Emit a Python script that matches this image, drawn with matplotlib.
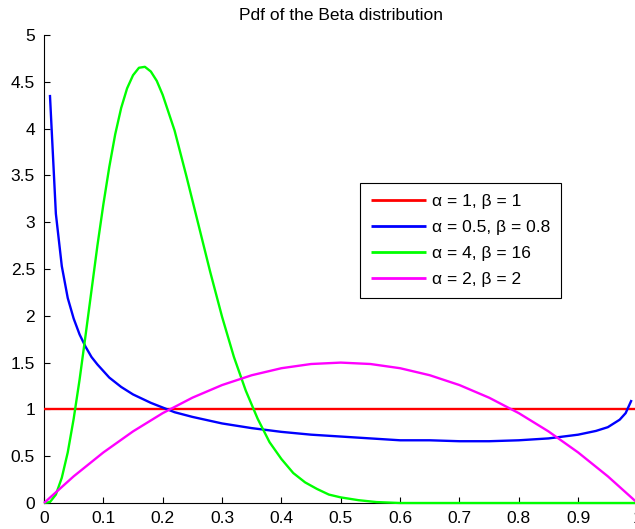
import matplotlib
matplotlib.use("Agg")
import matplotlib.pyplot as plt

plt.rcParams['font.family'] = ['Liberation Sans', 'DejaVu Sans']

title = "Pdf of the Beta distribution"

# alpha = 1, beta = 1
x_red = [0.0, 1.0]
y_red = [1.0, 1.0]

# alpha = 0.5, beta = 0.8
x_blue = [0.01, 0.02, 0.03, 0.04, 0.05, 0.06, 0.07, 0.08, 0.09, 0.10, 0.11,
          0.12, 0.13, 0.14, 0.15, 0.17, 0.18, 0.20, 0.22, 0.25, 0.30, 0.35,
          0.40, 0.45, 0.50, 0.55, 0.60, 0.65, 0.70, 0.75, 0.80, 0.85, 0.90,
          0.93, 0.95, 0.97, 0.98, 0.99]
y_blue = [4.36, 3.09, 2.53, 2.19, 1.97, 1.80, 1.67, 1.56, 1.48, 1.41, 1.34,
          1.29, 1.24, 1.20, 1.16, 1.10, 1.07, 1.02, 0.97, 0.92, 0.85, 0.80,
          0.76, 0.73, 0.71, 0.69, 0.67, 0.67, 0.66, 0.66, 0.67, 0.69, 0.73,
          0.77, 0.81, 0.89, 0.96, 1.10]

# alpha = 4, beta = 16
x_green = [0.0, 0.01, 0.02, 0.03, 0.04, 0.05, 0.06, 0.07, 0.08, 0.09, 0.10,
           0.11, 0.12, 0.13, 0.14, 0.15, 0.16, 0.17, 0.18, 0.19, 0.20, 0.22,
           0.24, 0.26, 0.28, 0.30, 0.32, 0.34, 0.36, 0.38, 0.40, 0.42, 0.44,
           0.46, 0.48, 0.50, 0.53, 0.56, 0.60, 0.65, 0.70, 0.80, 0.90, 1.0]
y_green = [0.0, 0.01, 0.09, 0.27, 0.54, 0.90, 1.32, 1.79, 2.27, 2.75, 3.19,
           3.59, 3.94, 4.22, 4.43, 4.57, 4.65, 4.66, 4.61, 4.51, 4.36, 3.98,
           3.49, 2.98, 2.47, 1.99, 1.56, 1.20, 0.90, 0.65, 0.47, 0.32, 0.22,
           0.15, 0.09, 0.06, 0.03, 0.01, 0.0, 0.0, 0.0, 0.0, 0.0, 0.0]

# alpha = 2, beta = 2
x_mag = [0.0, 0.05, 0.10, 0.15, 0.20, 0.25, 0.30, 0.35, 0.40, 0.45, 0.50,
         0.55, 0.60, 0.65, 0.70, 0.75, 0.80, 0.85, 0.90, 0.95, 1.0]
y_mag = [0.0, 0.285, 0.54, 0.765, 0.96, 1.125, 1.26, 1.365, 1.44, 1.485, 1.50,
         1.485, 1.44, 1.365, 1.26, 1.125, 0.96, 0.765, 0.54, 0.285, 0.0]

labels = ["\u03b1 = 1, \u03b2 = 1", "\u03b1 = 0.5, \u03b2 = 0.8",
          "\u03b1 = 4, \u03b2 = 16", "\u03b1 = 2, \u03b2 = 2"]
colors = ["#ff0000", "#0000ff", "#00ff00", "#ff00ff"]

xticks = [0, 0.1, 0.2, 0.3, 0.4, 0.5, 0.6, 0.7, 0.8, 0.9, 1]
xticklabels = ["0", "0.1", "0.2", "0.3", "0.4", "0.5", "0.6", "0.7", "0.8", "0.9", "1"]
yticks = [0, 0.5, 1, 1.5, 2, 2.5, 3, 3.5, 4, 4.5, 5]
yticklabels = ["0", "0.5", "1", "1.5", "2", "2.5", "3", "3.5", "4", "4.5", "5"]

FS = 12.5
W, H = 635, 529
fig = plt.figure(figsize=(W / 100, H / 100), dpi=100)
left, right, bottom, top = 44, 637.5, 26, 494
ax = fig.add_axes([left / W, bottom / H, (right - left) / W, (top - bottom) / H])

series = [(x_red, y_red), (x_blue, y_blue), (x_green, y_green), (x_mag, y_mag)]
for (xs, ys), c, lab in zip(series, colors, labels):
    ax.plot(xs, ys, color=c, lw=1.7, label=lab, zorder=3, clip_on=False,
            solid_capstyle='butt')

ax.set_xlim(0, 1)
ax.set_ylim(0, 5)
ax.set_xticks(xticks)
ax.set_xticklabels(xticklabels)
ax.set_yticks(yticks)
ax.set_yticklabels(yticklabels)
for s in ['top', 'right']:
    ax.spines[s].set_visible(False)
for s in ['left', 'bottom']:
    ax.spines[s].set_linewidth(0.8)
    ax.spines[s].set_color('black')
ax.tick_params(axis='both', direction='in', length=4.5, width=0.8, labelsize=FS,
               colors='black')
ax.tick_params(axis='x', pad=6)
ax.tick_params(axis='y', pad=6.5)

ax.set_title(title, fontsize=FS, pad=10.5)

leg = ax.legend(loc='upper left', bbox_to_anchor=(360 / W, 1 - 183 / H),
                bbox_transform=fig.transFigure, borderaxespad=0,
                fancybox=False, shadow=False, framealpha=1, fontsize=FS,
                handlelength=3.16, handletextpad=0.35, labelspacing=0.63,
                borderpad=0.63)
leg.get_frame().set_edgecolor('black')
leg.get_frame().set_linewidth(0.8)
for ln in leg.get_lines():
    ln.set_linewidth(2.0)

fig.savefig("out.png", dpi=100)
